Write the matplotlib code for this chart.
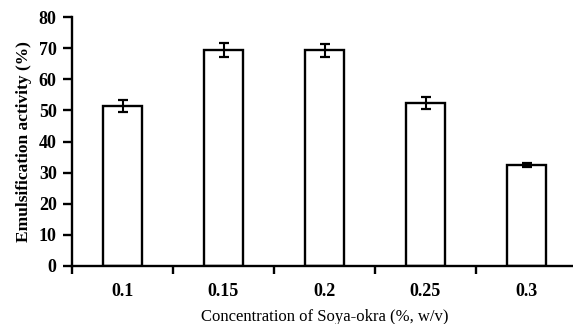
import numpy as np
import matplotlib
matplotlib.use("Agg")
import matplotlib.pyplot as plt

plt.rcParams["font.family"] = ["Liberation Serif", "DejaVu Serif"]

concs = ["0.1", "0.15", "0.2", "0.25", "0.3"]
activity = [51.4, 69.4, 69.3, 52.3, 32.4]
errs = [1.9, 2.2, 2.1, 1.9, 0.7]

fig = plt.figure(figsize=(5.73, 3.24), dpi=100)
ax = fig.add_axes([72/573, 58/324, 505/573, 249/324])

x = np.arange(len(concs))
ax.bar(x, activity, width=0.39, color="white", edgecolor="black", linewidth=1.7, zorder=2)
ax.errorbar(x, activity, yerr=errs, fmt="none", ecolor="black", elinewidth=1.5,
            capsize=3.5, capthick=1.6, zorder=3)

ax.set_xlim(-0.5, 4.5)
ax.set_ylim(0, 80)
ax.set_yticks(np.arange(0, 81, 10))
ax.set_xticks(x)
ax.set_xticklabels(concs, fontweight="bold", fontsize=13)
ax.set_xticks(np.arange(-0.5, 4.6, 1), minor=True)
for lab in ax.get_yticklabels():
    lab.set_fontweight("bold")
    lab.set_fontsize(13)

ax.spines["top"].set_visible(False)
ax.spines["right"].set_visible(False)
ax.spines["left"].set_linewidth(1.7)
ax.spines["bottom"].set_linewidth(1.7)
ax.tick_params(axis="y", direction="out", length=6.5, width=1.7, pad=4.5)
ax.tick_params(axis="x", which="major", length=0, pad=12.5)
ax.tick_params(axis="x", which="minor", direction="out", length=6, width=1.7)

ax.set_xlabel("Concentration of Soya-okra (%, w/v)", fontsize=12, labelpad=6)
ax.set_ylabel("Emulsification activity (%)", fontsize=12.5, fontweight="bold", labelpad=5)

fig.savefig("out.png", dpi=100)
